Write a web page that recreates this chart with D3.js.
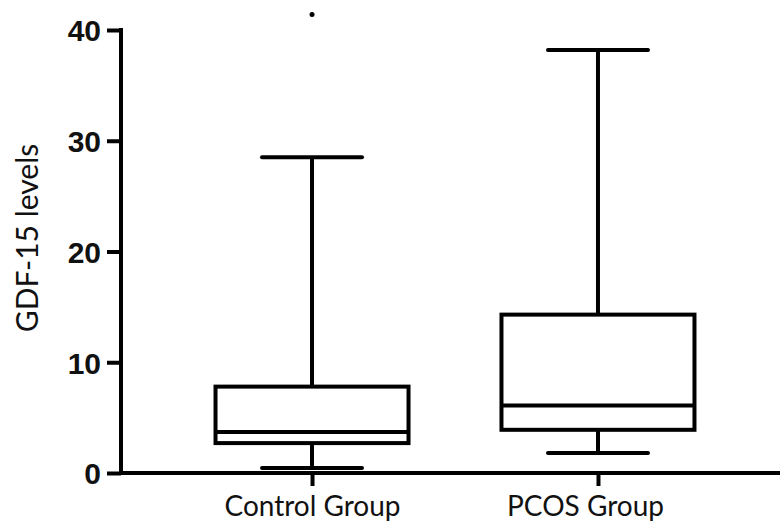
<!DOCTYPE html>
<html>
<head>
<meta charset="utf-8">
<script src="https://cdn.jsdelivr.net/npm/d3@7"></script>
<style>
  body { margin: 0; background: #fff; }
  svg { display: block; }
</style>
</head>
<body>
<script>
// Data
const groups = ["Control Group", "PCOS Group"];
const whiskerLow = [0.45, 1.8];
const q1 = [2.7, 3.9];
const median = [3.7, 6.1];
const q3 = [7.8, 14.3];
const whiskerHigh = [28.5, 38.2];
const outliers = [[41.4], []];
const yTicks = [0, 10, 20, 30, 40];

const W = 780, H = 532;
const X0 = 121, Y0 = 473, Y1 = 30;
const BOX_W = 193, CAP_W = 100, LW = 4;

const svg = d3.select("body").append("svg")
    .attr("width", W)
    .attr("height", H);

const y = d3.scaleLinear().domain([0, 40]).range([Y0, Y1]);
const x = d3.scalePoint().domain(groups).range([X0, 789]).padding(0.668);

// y axis
const yAxis = svg.append("g")
    .attr("transform", "translate(" + X0 + ",0)")
    .call(d3.axisLeft(y).tickValues(yTicks).tickSize(14).tickPadding(6).tickSizeOuter(0));
yAxis.select(".domain").attr("stroke-width", LW).attr("d", "M0," + (Y1 - 2) + "V" + (Y0 + 2));
yAxis.selectAll(".tick line").attr("stroke-width", LW);
yAxis.selectAll(".tick text")
    .attr("font-family", "Liberation Sans, Arial, sans-serif")
    .attr("font-weight", "bold")
    .attr("font-size", 30)
    .attr("fill", "#111")
    .attr("dy", "0.36em");

// x axis
const xAxis = svg.append("g")
    .attr("transform", "translate(0," + Y0 + ")")
    .call(d3.axisBottom(x).tickSize(13).tickPadding(8).tickSizeOuter(0));
xAxis.select(".domain").attr("stroke-width", LW).attr("d", "M" + (X0 - 2) + ",0H" + W);
xAxis.selectAll(".tick line").attr("stroke-width", LW);
// the second label sits a little left of its tick in the original
xAxis.selectAll(".tick text")
    .attr("font-family", "Lato, Open Sans, sans-serif")
    .attr("font-size", 28)
    .attr("fill", "#111")
    .attr("dy", "0.8em")
    .attr("dx", (d, i) => i === 1 ? -13 : 0);

// y axis title
svg.append("text")
    .attr("transform", "translate(38," + 238 + ") rotate(-90)")
    .attr("text-anchor", "middle")
    .attr("font-family", "Lato, Open Sans, sans-serif")
    .attr("font-size", 30)
    .attr("fill", "#111")
    .text("GDF-15 levels");

// boxes
const boxes = svg.selectAll("g.box")
    .data(groups)
    .enter()
    .append("g")
        .attr("class", "box")
        .attr("fill", "none")
        .attr("stroke", "#000")
        .attr("stroke-width", LW);

// whiskers
boxes.append("line")
    .attr("x1", d => x(d)).attr("x2", d => x(d))
    .attr("y1", (d, i) => y(whiskerHigh[i]))
    .attr("y2", (d, i) => y(q3[i]));
boxes.append("line")
    .attr("x1", d => x(d)).attr("x2", d => x(d))
    .attr("y1", (d, i) => y(q1[i]))
    .attr("y2", (d, i) => y(whiskerLow[i]));

// caps
[whiskerHigh, whiskerLow].forEach(arr =>
{
  boxes.append("line")
      .attr("stroke-linecap", "round")
      .attr("x1", d => x(d) - CAP_W / 2).attr("x2", d => x(d) + CAP_W / 2)
      .attr("y1", (d, i) => y(arr[i]))
      .attr("y2", (d, i) => y(arr[i]));
});

// box rect
boxes.append("rect")
    .attr("x", d => x(d) - BOX_W / 2)
    .attr("width", BOX_W)
    .attr("y", (d, i) => y(q3[i]))
    .attr("height", (d, i) => y(q1[i]) - y(q3[i]))
    .attr("fill", "#fff");

// median
boxes.append("line")
    .attr("x1", d => x(d) - BOX_W / 2).attr("x2", d => x(d) + BOX_W / 2)
    .attr("y1", (d, i) => y(median[i]))
    .attr("y2", (d, i) => y(median[i]));

// outliers
boxes.each(function (d, i)
{
  d3.select(this).selectAll("circle")
      .data(outliers[i])
      .enter()
      .append("circle")
          .attr("cx", x(d))
          .attr("cy", v => y(v))
          .attr("r", 2.5)
          .attr("fill", "#000")
          .attr("stroke", "none");
});
</script>
</body>
</html>
